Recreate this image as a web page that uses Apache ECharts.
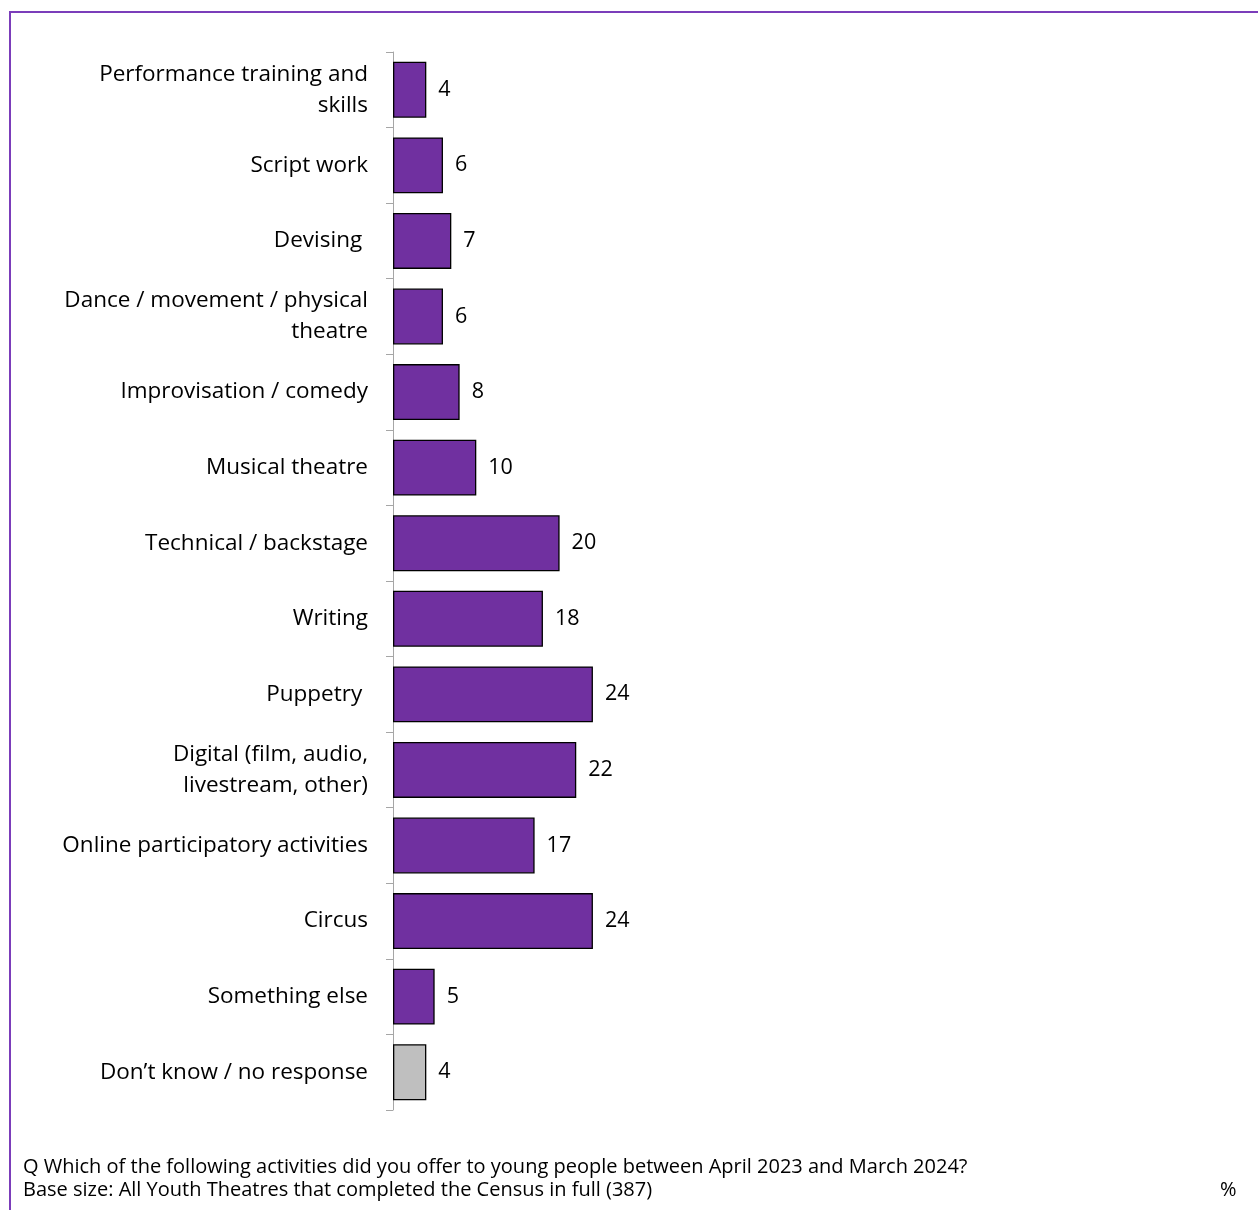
<!DOCTYPE html>
<html>
<head>
<meta charset="utf-8">
<script src="https://cdn.jsdelivr.net/npm/echarts@6/dist/echarts.min.js"></script>
<style>
  html, body { margin: 0; padding: 0; background: #fff; }
  #chart { width: 1258px; height: 1210px; }
</style>
</head>
<body>
<div id="chart"></div>
<script>
// Activities offered to young people, % of youth theatres
const categories = [
  'Performance training and\nskills',
  'Script work',
  'Devising ',
  'Dance / movement / physical\ntheatre',
  'Improvisation / comedy',
  'Musical theatre',
  'Technical / backstage',
  'Writing',
  'Puppetry ',
  'Digital (film, audio,\nlivestream, other)',
  'Online participatory activities',
  'Circus',
  'Something else',
  'Don\u2019t know / no response'
];
const values = [4, 6, 7, 6, 8, 10, 20, 18, 24, 22, 17, 24, 5, 4];
const greyCategories = ['Don\u2019t know / no response'];

const questionText = 'Q Which of the following activities did you offer to young people between April 2023 and March 2024?';
const baseText = 'Base size: All Youth Theatres that completed the Census in full (387)';
const unitText = '%';

const FONT = '"Open Sans", Lato, sans-serif';

const chart = echarts.init(document.getElementById('chart'), null, { renderer: 'canvas' });

chart.setOption({
  animation: false,
  backgroundColor: '#ffffff',
  grid: { left: 393, right: 32, top: 52, bottom: 100, containLabel: false },
  xAxis: {
    type: 'value',
    min: 0,
    max: 100,
    show: false
  },
  yAxis: {
    type: 'category',
    data: categories,
    inverse: true,
    axisLine: { show: true, lineStyle: { color: '#A6A6A6', width: 1 } },
    axisTick: { show: true, length: 7, lineStyle: { color: '#A6A6A6' } },
    axisLabel: {
      margin: 25,
      fontFamily: FONT,
      fontSize: 22.5,
      lineHeight: 31,
      color: '#000',
      align: 'right'
    }
  },
  series: [{
    type: 'bar',
    barCategoryGap: '26%',
    data: values.map((v, i) => ({
      value: v,
      itemStyle: {
        color: greyCategories.includes(categories[i]) ? '#BFBFBF' : '#7030A0'
      }
    })),
    itemStyle: { borderColor: '#000', borderWidth: 1.3 },
    label: {
      show: true,
      position: 'right',
      distance: 12,
      fontFamily: FONT,
      fontSize: 21.5,
      color: '#000'
    }
  }],
  graphic: [
    {
      type: 'rect',
      shape: { x: 10, y: 12, width: 1300, height: 1300 },
      style: { fill: 'none', stroke: '#7B3DBA', lineWidth: 2 },
      silent: true
    },
    {
      type: 'text',
      left: 23,
      top: 1157,
      style: { text: questionText, fontFamily: FONT, fontSize: 20, fill: '#000' }
    },
    {
      type: 'text',
      left: 23,
      top: 1180,
      style: { text: baseText, fontFamily: FONT, fontSize: 20, fill: '#000' }
    },
    {
      type: 'text',
      left: 1220,
      top: 1180,
      style: { text: unitText, fontFamily: FONT, fontSize: 20, fill: '#000' }
    }
  ]
});
</script>
</body>
</html>
